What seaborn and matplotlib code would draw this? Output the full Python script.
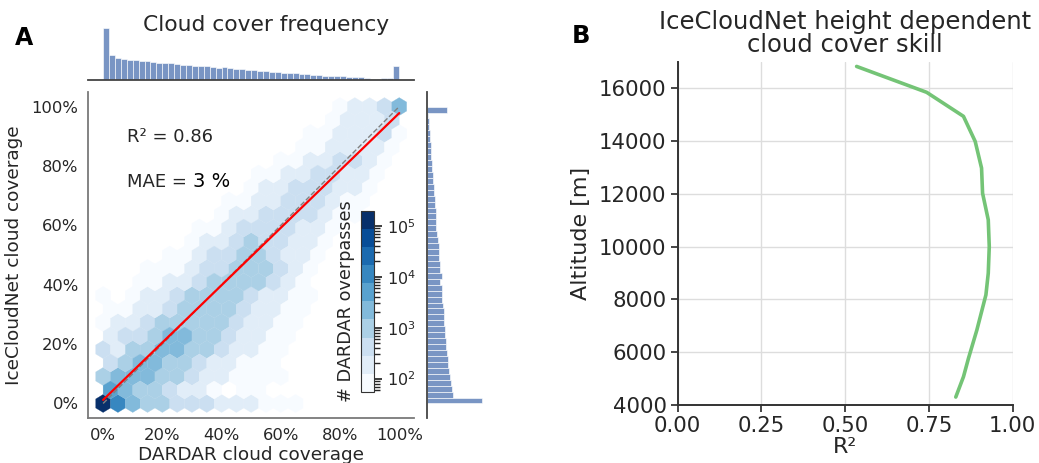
import numpy as np
import pandas as pd
import matplotlib
matplotlib.use("Agg")
import matplotlib.pyplot as plt
import matplotlib.ticker as mticker
from matplotlib.colors import LogNorm
import seaborn as sns

# -----------------------------------------------------------------------------
# Panel A - hexbin of DARDAR vs IceCloudNet cloud coverage (values read off)
# rows alternate between the two lattices of a gridsize=20 hexbin on 0..100 %:
# even rows -> x = 0, 5, ..., 100 ; odd rows -> x = 2.5, 7.5, ..., 97.5
# hex_first_col = column index of the first listed cell of every row
# -----------------------------------------------------------------------------
hex_first_col = [0, 0, 0, 0, 0, 0, 0, 0, 0, 2, 3, 4, 6, 6, 8, 8, 10, 10, 12, 13, 14, 15, 16]
hex_counts = [
    [130000, 11000, 2200, 950, 950, 420, 420, 420, 190, 190, 190, 80, 80, 80],
    [5000, 2200, 950, 950, 420, 190, 190, 80, 0, 80, 80],
    [950, 2200, 2200, 2200, 950, 950, 420, 190, 190, 80, 80, 80, 80],
    [420, 950, 2200, 2200, 950, 950, 420, 190, 190, 80, 80, 80],
    [420, 190, 950, 950, 2200, 2200, 950, 950, 420, 190, 190, 80, 80],
    [190, 420, 420, 950, 2200, 2200, 950, 950, 420, 190, 190, 80, 80],
    [80, 190, 190, 420, 950, 950, 950, 950, 950, 420, 190, 190, 80, 80],
    [80, 80, 190, 190, 420, 950, 950, 950, 950, 420, 190, 190, 80, 80],
    [80, 0, 80, 190, 190, 420, 950, 950, 950, 950, 420, 190, 190, 80, 80],
    [80, 80, 190, 190, 420, 950, 950, 950, 950, 420, 190, 80],
    [80, 80, 80, 190, 420, 420, 950, 950, 950, 420, 190, 80],
    [80, 80, 190, 420, 420, 950, 950, 420, 190, 190, 80],
    [80, 190, 190, 420, 950, 420, 420, 190, 190, 80],
    [80, 80, 190, 420, 420, 420, 420, 190, 190, 80],
    [80, 190, 190, 420, 420, 420, 420, 190, 80, 80],
    [80, 80, 190, 190, 420, 420, 420, 190, 80, 80],
    [80, 190, 190, 420, 420, 420, 190, 190, 80],
    [80, 80, 190, 190, 420, 420, 190, 190, 80],
    [80, 80, 190, 190, 420, 420, 190, 80],
    [80, 80, 190, 190, 190, 190, 80],
    [80, 80, 190, 190, 190, 420, 80],
    [80, 190, 190, 190, 420],
    [80, 190, 190, 420, 2200],
]

# regression line and 1:1 line (percent)
fit_x = [0, 100]
fit_y = [1.2, 97.8]
one_to_one = [0, 100]

# marginal frequencies, 50 bins of 2 % (arbitrary units)
x_marg_freq = [158, 75, 68, 65, 62, 62, 59, 57, 55, 52, 51, 51, 48, 46, 46, 43, 42, 42, 40, 38,
               39, 36, 34, 33, 31, 32, 29, 27, 25, 25, 23, 22, 21, 20, 19, 17, 16, 14, 13, 12,
               11, 9, 9, 8, 7, 3, 2, 5, 5, 42]
y_marg_freq = [160, 75, 72, 70, 67, 64, 62, 62, 58, 57, 56, 54, 52, 50, 50, 49, 47, 45, 44, 43,
               40, 43, 40, 38, 37, 36, 35, 33, 30, 28, 28, 27, 26, 24, 23, 22, 22, 18, 17, 15,
               14, 13, 12, 11, 10, 9, 8, 6, 5, 58]

r2_text = "R² = 0.86"
mae_text = "3 %"

# -----------------------------------------------------------------------------
# Panel B - height dependent skill
# -----------------------------------------------------------------------------
altitude_m = [4300, 5070, 5770, 6840, 8170, 8990, 10000, 11010, 12020, 12970, 13980, 14930, 15840, 16820]
r2_skill = [0.830, 0.853, 0.868, 0.893, 0.920, 0.927, 0.930, 0.927, 0.910, 0.907, 0.888, 0.853, 0.743, 0.534]

sns.set_theme(style="ticks")
plt.rcParams["font.family"] = ["DejaVu Sans"]
dark = "#262626"

fig = plt.figure(figsize=(10.39, 4.63), dpi=100)

ax_j = fig.add_axes([0.085, 0.0965, 0.3135, 0.7054])
ax_top = fig.add_axes([0.085, 0.827, 0.3135, 0.117])
ax_rt = fig.add_axes([0.4107, 0.0965, 0.055, 0.7054])
ax_b = fig.add_axes([0.6523, 0.1253, 0.3224, 0.7415])

# ---- hexbin -----------------------------------------------------------------
sx, sy = 100 / 20, 100 / 11
hx, hy, hc = [], [], []
for r, (c0, row) in enumerate(zip(hex_first_col, hex_counts)):
    for k, n in enumerate(row):
        if n == 0:
            continue
        hx.append((c0 + k + 0.5 * (r % 2)) * sx)
        hy.append(r * sy / 2)
        hc.append(n)

cmap = matplotlib.colormaps["Blues"].resampled(10)
hb = ax_j.hexbin(hx, hy, C=hc, reduce_C_function=np.sum, gridsize=20,
                 extent=(0, 100, 0, 100), cmap=cmap,
                 norm=LogNorm(vmin=55, vmax=195000),
                 linewidths=0.2, edgecolors="face")

ax_j.plot(one_to_one, one_to_one, ls="--", color="gray", lw=1)
ax_j.plot(fit_x, fit_y, color="red", lw=1.6)

ax_j.set_xlim(-5, 105)
ax_j.set_ylim(-5, 105)
ax_j.set_xticks([0, 20, 40, 60, 80, 100])
ax_j.set_yticks([0, 20, 40, 60, 80, 100])
ax_j.xaxis.set_major_formatter(mticker.PercentFormatter(xmax=100, decimals=0))
ax_j.yaxis.set_major_formatter(mticker.PercentFormatter(xmax=100, decimals=0))
ax_j.tick_params(length=0, labelsize=11.8, colors=dark, pad=7)
ax_j.set_xlabel("DARDAR cloud coverage", fontsize=13.3, color=dark, labelpad=2)
ax_j.set_ylabel("IceCloudNet cloud coverage", fontsize=13.3, color=dark, labelpad=6)
for s in ["top", "right"]:
    ax_j.spines[s].set_visible(False)
for s in ["left", "bottom"]:
    ax_j.spines[s].set_color("#7a7a7a")
    ax_j.spines[s].set_linewidth(1.3)

ax_j.text(0.119, 0.845, r2_text, transform=ax_j.transAxes, fontsize=13, color=dark)
ax_j.text(0.119, 0.707, "MAE = ", transform=ax_j.transAxes, fontsize=13, color=dark)
ax_j.text(0.321, 0.707, mae_text, transform=ax_j.transAxes, fontsize=14, color="black")

cax = ax_j.inset_axes([0.837, 0.081, 0.041, 0.554])
cb = fig.colorbar(hb, cax=cax)
cb.set_label("# DARDAR overpasses", fontsize=12.7, color=dark, labelpad=4)
cb.ax.yaxis.set_label_position("left")
cb.ax.tick_params(labelsize=11.5, colors=dark)
cb.outline.set_edgecolor("#333333")
cb.outline.set_linewidth(0.8)

# ---- marginals ---------------------------------------------------------------
bin_edges = [2 * i for i in range(51)]
marg = pd.DataFrame({
    "mid": [2 * i + 1 for i in range(50)],
    "fx": x_marg_freq,
    "fy": y_marg_freq,
})

sns.histplot(data=marg, x="mid", weights="fx", bins=bin_edges, ax=ax_top)
ax_top.set_xlim(-5, 105)
ax_top.set_ylim(0, 165)
ax_top.set_xticks([])
ax_top.set_yticks([])
ax_top.set_xlabel("")
ax_top.set_ylabel("")
for s in ["top", "right", "left"]:
    ax_top.spines[s].set_visible(False)
ax_top.spines["bottom"].set_color("#444444")
ax_top.spines["bottom"].set_linewidth(1.3)

sns.histplot(data=marg, y="mid", weights="fy", bins=bin_edges, ax=ax_rt)
ax_rt.set_ylim(-5, 105)
ax_rt.set_xlim(0, 166)
ax_rt.set_xticks([])
ax_rt.set_yticks([])
ax_rt.set_xlabel("")
ax_rt.set_ylabel("")
for s in ["top", "right", "bottom"]:
    ax_rt.spines[s].set_visible(False)
ax_rt.spines["left"].set_color("#444444")
ax_rt.spines["left"].set_linewidth(1.3)

fig.text(0.256, 0.932, "Cloud cover frequency", ha="center", va="baseline",
         fontsize=15.7, color=dark)
fig.text(0.0144, 0.903, "A", fontsize=17, fontweight="bold", color="black", va="baseline")

# ---- panel B -------------------------------------------------------------------
sns.lineplot(x=r2_skill, y=altitude_m, sort=False, estimator=None, ax=ax_b,
             color="#74c476", lw=2.6)
ax_b.set_xlim(0, 1)
ax_b.set_ylim(4000, 17000)
ax_b.set_xticks([0, 0.25, 0.5, 0.75, 1.0])
ax_b.set_yticks(list(range(4000, 16001, 2000)))
ax_b.xaxis.set_major_formatter(mticker.FormatStrFormatter("%.2f"))
ax_b.grid(True, color="#dddddd", lw=1)
ax_b.tick_params(labelsize=15.3, colors=dark, length=5, width=1.2, pad=3)
ax_b.set_xlabel("R²", fontsize=16, color=dark, labelpad=1)
ax_b.set_ylabel("Altitude [m]", fontsize=16, color=dark, labelpad=6)
ax_b.set_title("IceCloudNet height dependent\ncloud cover skill", fontsize=17.5,
               color=dark, linespacing=0.95, pad=7)
for s in ["top", "right"]:
    ax_b.spines[s].set_visible(False)
for s in ["left", "bottom"]:
    ax_b.spines[s].set_color("#333333")
    ax_b.spines[s].set_linewidth(1.4)
fig.text(0.5505, 0.907, "B", fontsize=17.5, fontweight="bold", color="black", va="baseline")

fig.savefig("out.png", dpi=100)
